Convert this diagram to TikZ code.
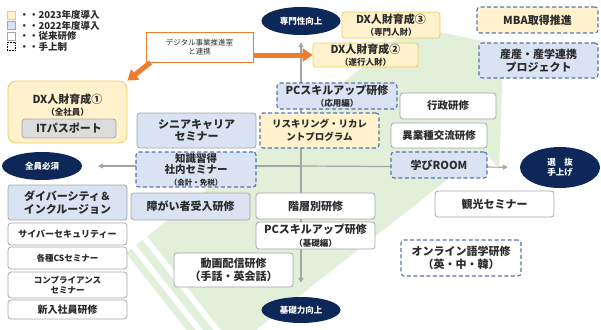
\documentclass[tikz,border=0pt]{standalone}
\usepackage{fontspec}
\setmainfont{Noto Sans CJK JP}
\usetikzlibrary{positioning,arrows.meta,shapes.geometric}
\definecolor{newyellow}{HTML}{FFF2CC}
\definecolor{yellowline}{HTML}{F2CC5C}
\definecolor{newblue}{HTML}{DAE3F3}
\definecolor{dashblue}{HTML}{5673AE}
\definecolor{boxgray}{HTML}{A6A6A6}
\definecolor{itgray}{HTML}{DCDCDC}
\definecolor{navy}{HTML}{0C2758}
\definecolor{dxorange}{HTML}{ED7D31}
\definecolor{arrowgreen}{HTML}{E2EFD9}
\definecolor{textdark}{HTML}{2B2B2B}
\newcommand{\smallnote}[1]{{\fontsize{8.5}{9.5}\selectfont #1}}
\tikzset{
  basebox/.style={draw=boxgray, line width=0.8pt, rounded corners=3pt, fill=white, align=center, inner sep=0pt, text=textdark, font=\bfseries\fontsize{11}{12.5}\selectfont},
  oldbox/.style={basebox},
  bluebox/.style={basebox, fill=newblue},
  yellowbox/.style={basebox, fill=newyellow, draw=yellowline},
  handbox/.style={draw=dashblue, line width=1.1pt, dash pattern=on 4pt off 2.5pt},
  goalnode/.style={ellipse, fill=navy, text=white, inner sep=0pt, align=center, font=\bfseries\fontsize{8.5}{10.5}\selectfont},
  axisarrow/.style={-{Triangle[length=5pt,width=5pt]}, draw=boxgray, line width=1.2pt},
  orangearrow/.style={-{Triangle[length=10pt,width=13pt]}, draw=dxorange, line width=5pt},
  swatch/.style={draw=boxgray, line width=0.6pt, fill=white, minimum width=8pt, minimum height=8pt, inner sep=0pt},
  keytext/.style={inner sep=0pt, text=textdark, font=\bfseries\fontsize{9.5}{10}\selectfont}
}
\begin{document}
\begin{tikzpicture}[x=1pt, y=-1pt, >=Latex]
  \useasboundingbox (0,0) rectangle (601,329);
  % background arrow
  \begin{scope}
    \clip (0,0) rectangle (601,329);
    \fill[arrowgreen] (126,253) -- (131.5,248.7) -- (218.6,359.5) -- (213.1,363.8) -- cycle;
    \fill[arrowgreen] (136.2,245.0) -- (142.5,240.0) -- (229.6,350.8) -- (223.3,355.8) -- cycle;
    \fill[arrowgreen] (147.2,236.3) -- (397.2,39.8) -- (381.7,20.1) -- (503.4,45.3)
      -- (499.2,169.5) -- (484.3,150.6) -- (234.3,347.1) -- cycle;
  \end{scope}

  % legend
  \node[swatch, fill=newyellow, draw=yellowline] (keynew) at (11,15) {};
  \node[swatch, fill=newblue] (keyblue) at (11,25.5) {};
  \node[swatch] (keyold) at (11,36) {};
  \node[swatch, draw=black, densely dotted] (keyhand) at (11,46.5) {};
  \node[keytext, right=4pt of keynew] (keynewtxt) {・・2023年度導入};
  \node[keytext, right=4pt of keyblue] (keybluetxt) {・・2022年度導入};
  \node[keytext, right=4pt of keyold] (keyoldtxt) {・・従来研修};
  \node[keytext, right=4pt of keyhand] (keyhandtxt) {・・手上制};

  % axes
  \node[goalnode, minimum width=79pt, minimum height=28pt] (senmon) at (301,21) {専門性向上};
  \node[goalnode, minimum width=79pt, minimum height=26pt] (kiso) at (301,310) {基礎力向上};
  \node[goalnode, minimum width=80pt, minimum height=28pt] (zenin) at (42,166) {全員必須};
  \node[goalnode, minimum width=80pt, minimum height=41pt] (senbatsu) at (560,167.5) {選　抜\\手上げ};
  \coordinate (ctr) at (301,166);
  \draw[axisarrow, shorten >=7pt] (ctr) -- (senmon);
  \draw[axisarrow, shorten >=14pt] (ctr) -- (kiso);
  \draw[axisarrow, shorten >=16pt] (ctr) -- (zenin);
  \draw[axisarrow, shorten >=12pt] (ctr) -- (senbatsu);

  % DX
  \node[basebox, draw=dxorange, rounded corners=0pt, font=\fontsize{7.5}{9.5}\selectfont, minimum width=107pt, minimum height=30pt] (digi) at (199.5,47) {デジタル事業推進室\\と連携};
  \node[yellowbox, minimum width=98pt, minimum height=26pt] (dx3) at (391,25) {DX人財育成③\\\smallnote{（専門人財）}};
  \node[yellowbox, minimum width=105pt, minimum height=24pt] (dx2) at (365.5,55) {DX人財育成②\\\smallnote{（遂行人財）}};
  \node[yellowbox, rounded corners=8pt, minimum width=119pt, minimum height=62pt] (dx1) at (67.5,112) {};
  \node[inner sep=0pt, align=center, text=textdark, font=\bfseries\fontsize{11}{12.5}\selectfont] (dx1txt) at (67.5,105) {DX人財育成①\\\smallnote{（全社員）}};
  \node[basebox, fill=itgray, minimum width=94pt, minimum height=19pt] (itpass) at (69,128.5) {ITパスポート};
  \draw[orangearrow] (digi.east |- dx2.west) -- (dx2.west);
  \draw[orangearrow] ([xshift=5pt]digi.south west) -- (dx1.north east);

  % top right
  \node[yellowbox, handbox, minimum width=121pt, minimum height=26pt] (mba) at (537.5,20) {MBA取得推進};
  \node[bluebox, handbox, minimum width=119pt, minimum height=35pt] (sangaku) at (538.5,60.5) {産産・産学連携\\プロジェクト};

  % centre
  \node[bluebox, handbox, minimum width=120pt, minimum height=26pt] (pcadv) at (337,96) {PCスキルアップ研修\\\smallnote{（応用編）}};
  \node[oldbox, font=\bfseries\fontsize{10.5}{12}\selectfont, minimum width=96pt, minimum height=26pt] (gyosei) at (448,106) {行政研修};
  \node[bluebox, minimum width=119pt, minimum height=35pt] (senior) at (196.5,130.5) {シニアキャリア\\セミナー};
  \node[yellowbox, handbox, font=\bfseries\fontsize{9.5}{13}\selectfont, minimum width=119pt, minimum height=35pt] (reskill) at (319.5,130.5) {リスキリング・リカレ\\ントプログラム};
  \node[oldbox, font=\bfseries\fontsize{10.5}{12}\selectfont, minimum width=96pt, minimum height=25pt] (igyo) at (439,135.5) {異業種交流研修};
  \node[bluebox, handbox, font=\bfseries\fontsize{10.5}{11.5}\selectfont, minimum width=120pt, minimum height=35pt] (chishiki) at (196,169.5) {知識習得\\社内セミナー\\{\fontsize{7.5}{8}\selectfont（会計・免税）}};
  \node[bluebox, handbox, minimum width=96pt, minimum height=26pt] (manabi) at (439,165) {学びROOM};
  \node[bluebox, minimum width=119pt, minimum height=27pt] (shogai) at (190.5,206.5) {障がい者受入研修};
  \node[oldbox, minimum width=119pt, minimum height=26pt] (kaiso) at (315.5,206) {階層別研修};
  \node[oldbox, minimum width=119pt, minimum height=27pt] (pcbasic) at (315.5,235.5) {PCスキルアップ研修\\\smallnote{（基礎編）}};
  \node[oldbox, minimum width=119pt, minimum height=34pt] (douga) at (233.5,270) {動画配信研修\\（手話・英会話）};
  \node[oldbox, minimum width=119pt, minimum height=26pt] (kanko) at (494.5,204) {観光セミナー};
  \node[oldbox, handbox, minimum width=120pt, minimum height=36pt] (online) at (461,258) {オンライン語学研修\\（英・中・韓）};

  % left column
  \node[bluebox, minimum width=119pt, minimum height=35pt] (diversity) at (67.5,202.5) {ダイバーシティ＆\\インクルージョン};
  \node[oldbox, font=\bfseries\fontsize{9}{10}\selectfont, minimum width=119pt, minimum height=22pt] (cyber) at (67.5,234) {サイバーセキュリティー};
  \node[oldbox, font=\bfseries\fontsize{8.5}{10}\selectfont, minimum width=119pt, minimum height=22pt] (cs) at (67.5,258) {各種CSセミナー};
  \node[oldbox, font=\bfseries\fontsize{8.5}{10.5}\selectfont, minimum width=119pt, minimum height=26pt] (compliance) at (67.5,285) {コンプライアンス\\セミナー};
  \node[oldbox, font=\bfseries\fontsize{10}{12}\selectfont, minimum width=119pt, minimum height=19pt] (shinnyu) at (67.5,309.5) {新入社員研修};
\end{tikzpicture}
\end{document}
